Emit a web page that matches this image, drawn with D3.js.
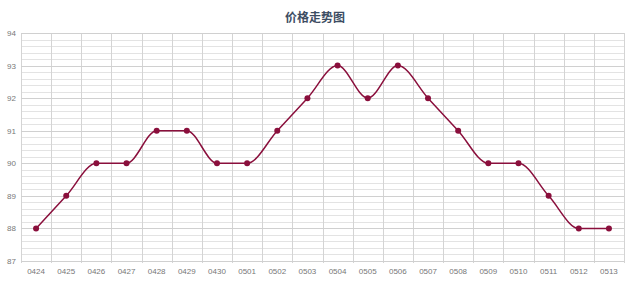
<!DOCTYPE html>
<html>
<head>
<meta charset="utf-8">
<script src="https://cdn.jsdelivr.net/npm/d3@7"></script>
<style>
  body { margin: 0; background: #fff; }
  svg { display: block; font-family: "Liberation Sans", "DejaVu Sans", sans-serif; }
</style>
</head>
<body>
<div id="chart"></div>
<script>
var dates = ["0424","0425","0426","0427","0428","0429","0430","0501","0502","0503",
             "0504","0505","0506","0507","0508","0509","0510","0511","0512","0513"];
var prices = [88, 89, 90, 90, 91, 91, 90, 90, 91, 92, 93, 92, 93, 92, 91, 90, 90, 89, 88, 88];
var yTicks = [87, 88, 89, 90, 91, 92, 93, 94];

var width = 640, height = 281;
var margin = {top: 33, right: 16, bottom: 20, left: 21};

var svg = d3.select("#chart").append("svg")
  .attr("width", width)
  .attr("height", height);

// title
svg.append("text")
  .attr("x", 315)
  .attr("y", 22)
  .attr("text-anchor", "middle")
  .style("font-family", "'Noto Sans CJK SC', sans-serif")
  .style("font-size", "12px")
  .style("font-weight", "bold")
  .style("fill", "#3d4d63")
  .text("价格走势图");

var x = d3.scaleBand()
  .domain(dates)
  .range([margin.left, width - margin.right]);

var y = d3.scaleLinear()
  .domain([87, 94])
  .range([height - margin.bottom, margin.top]);

var g = svg.append("g");

// minor horizontal grid
var minor = d3.range(87, 94.001, 0.2).filter(function(v) { return Math.abs(v - Math.round(v)) > 0.01; });
g.selectAll(".minor")
  .data(minor)
  .enter().append("line")
  .attr("x1", margin.left).attr("x2", width - margin.right)
  .attr("y1", function(d) { return Math.round(y(d)) + 0.5; })
  .attr("y2", function(d) { return Math.round(y(d)) + 0.5; })
  .style("stroke", "#e3e3e3");

// vertical grid
var vx = dates.map(function(d) { return x(d); }).concat([width - margin.right]);
g.selectAll(".vgrid")
  .data(vx)
  .enter().append("line")
  .attr("x1", function(d) { return Math.round(d) + 0.5; })
  .attr("x2", function(d) { return Math.round(d) + 0.5; })
  .attr("y1", margin.top)
  .attr("y2", height - margin.bottom + 2)
  .style("stroke", "#d4d4d4");

// major horizontal grid
g.selectAll(".major")
  .data(yTicks)
  .enter().append("line")
  .attr("x1", margin.left).attr("x2", width - margin.right)
  .attr("y1", function(d) { return Math.round(y(d)) + 0.5; })
  .attr("y2", function(d) { return Math.round(y(d)) + 0.5; })
  .style("stroke", "#d0d0d0");

// y labels
g.selectAll(".ylab")
  .data(yTicks)
  .enter().append("text")
  .attr("x", 16)
  .attr("y", function(d) { return y(d) + 3; })
  .attr("text-anchor", "end")
  .style("font-size", "8px")
  .style("fill", "#777")
  .text(function(d) { return d; });

// x labels
g.selectAll(".xlab")
  .data(dates)
  .enter().append("text")
  .attr("x", function(d) { return x(d) + x.bandwidth() / 2; })
  .attr("y", height - 7)
  .attr("text-anchor", "middle")
  .style("font-size", "8px")
  .style("fill", "#777")
  .text(function(d) { return d; });

// line
var line = d3.line()
  .x(function(d, i) { return x(dates[i]) + x.bandwidth() / 2; })
  .y(function(d) { return y(d); })
  .curve(d3.curveMonotoneX);

g.append("path")
  .datum(prices)
  .attr("d", line)
  .style("fill", "none")
  .style("stroke", "#8a0f3c")
  .style("stroke-width", 1.5);

g.selectAll(".dot")
  .data(prices)
  .enter().append("circle")
  .attr("cx", function(d, i) { return x(dates[i]) + x.bandwidth() / 2; })
  .attr("cy", function(d) { return y(d); })
  .attr("r", 3)
  .style("fill", "#8a0f3c");
</script>
</body>
</html>
